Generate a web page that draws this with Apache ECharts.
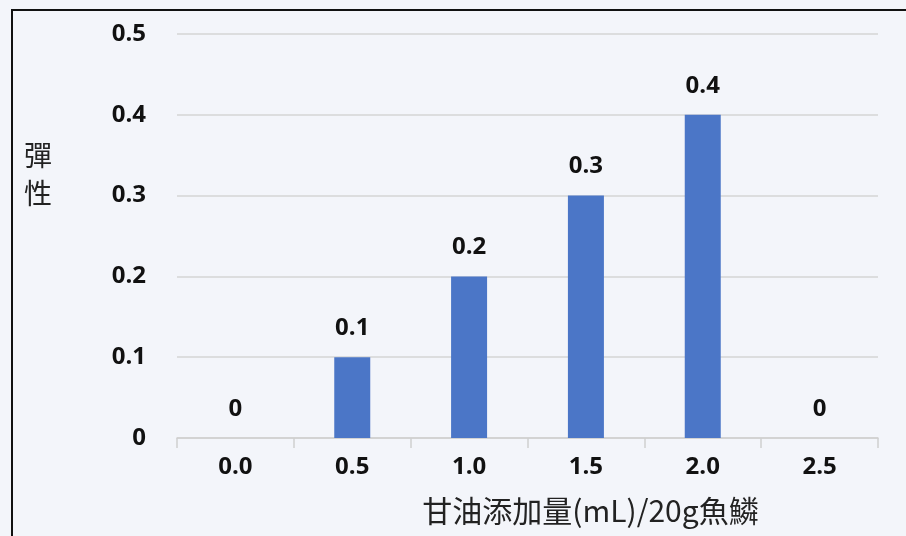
<!DOCTYPE html>
<html>
<head>
<meta charset="utf-8">
<script src="https://cdn.jsdelivr.net/npm/echarts@6/dist/echarts.min.js"></script>
<style>
  html, body { margin: 0; padding: 0; background: #f3f5fa; }
  #chart { width: 906px; height: 536px; }
</style>
</head>
<body>
<div id="chart"></div>
<script>
const categories = ['0.0', '0.5', '1.0', '1.5', '2.0', '2.5']
const elasticity = [0, 0.1, 0.2, 0.3, 0.4, 0]
const yTicks = [0, 0.1, 0.2, 0.3, 0.4, 0.5]
const xName = '甘油添加量(mL)/20g魚鱗'
const yName = '彈\n性'

const labelFont = '"Open Sans", "Noto Sans", sans-serif'
const cjkFont = '"Noto Sans CJK TC", "Noto Sans", sans-serif'

const chart = echarts.init(document.getElementById('chart'))

const option = {
  backgroundColor: '#f3f5fa',
  animation: false,
  grid: {
    left: 177,
    right: 28,
    top: 34,
    bottom: 98,
    containLabel: false,
    outerBoundsMode: 'none'
  },
  graphic: [
    {
      type: 'polyline',
      shape: { points: [[12, 536], [12, 10], [906, 10]] },
      style: { stroke: '#111', lineWidth: 2, fill: null }
    },
    {
      type: 'text',
      left: 24,
      top: 136,
      style: {
        text: yName,
        font: '28px ' + cjkFont,
        fill: '#222',
        lineHeight: 38
      }
    }
  ],
  xAxis: {
    type: 'category',
    data: categories,
    name: xName,
    nameLocation: 'middle',
    nameGap: 58,
    nameTextStyle: {
      fontFamily: cjkFont,
      fontSize: 30,
      color: '#222',
      padding: [0, 0, 0, 126]
    },
    axisLine: { lineStyle: { color: '#cfcfcf', width: 1.5 } },
    axisTick: { show: true, length: 10, lineStyle: { color: '#cfcfcf', width: 1.5 } },
    axisLabel: {
      fontFamily: labelFont,
      fontWeight: 'bold',
      fontSize: 24,
      color: '#111',
      margin: 17
    }
  },
  yAxis: {
    type: 'value',
    min: 0,
    max: 0.5,
    interval: 0.1,
    axisLine: { show: false },
    axisTick: { show: false },
    splitLine: { lineStyle: { color: '#d4d4d4', width: 1.5 } },
    axisLabel: {
      fontFamily: labelFont,
      fontWeight: 'bold',
      fontSize: 24,
      color: '#111',
      margin: 31,
      formatter: (v) => {
        const hit = yTicks.find(t => Math.abs(t - v) < 1e-9)
        return hit === 0 ? '0' : String(hit)
      }
    }
  },
  series: [
    {
      type: 'bar',
      data: elasticity,
      barWidth: 36,
      itemStyle: { color: '#4b76c7' },
      label: {
        show: true,
        position: 'top',
        distance: 17,
        fontFamily: labelFont,
        fontWeight: 'bold',
        fontSize: 24,
        color: '#111',
        formatter: (p) => p.value === 0 ? '0' : String(p.value)
      }
    }
  ]
}

chart.setOption(option)
</script>
</body>
</html>
